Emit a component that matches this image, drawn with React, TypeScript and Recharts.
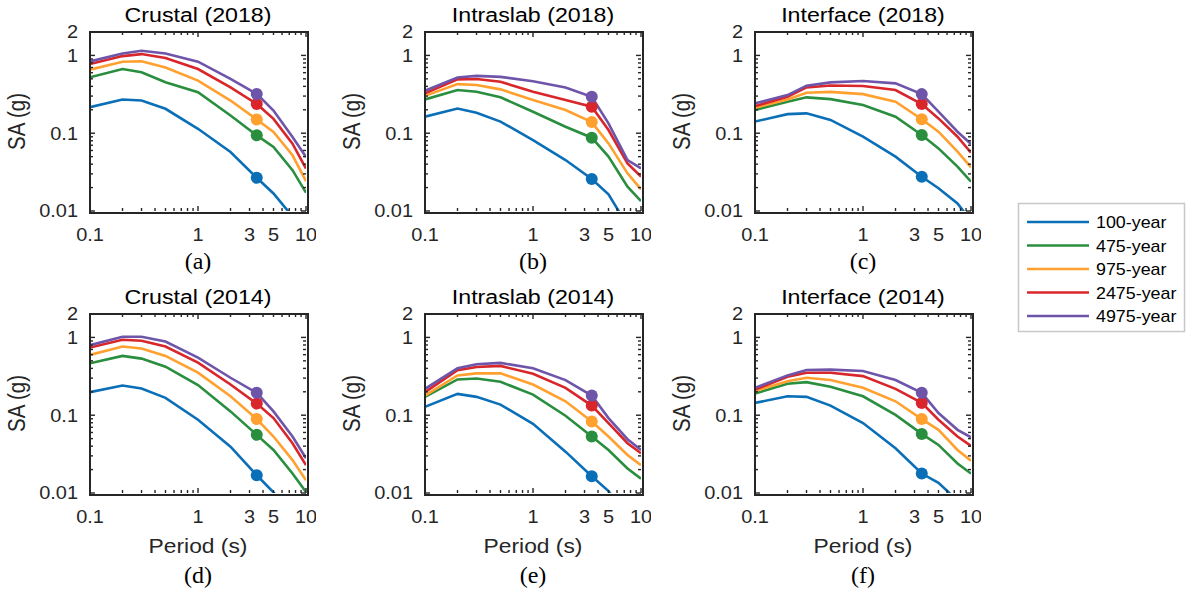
import React from "react";
import { LineChart, Line, XAxis, YAxis } from "recharts";

// spectral periods (s); the marked point sits at 3.5 s
const periods = [0.1, 0.2, 0.3, 0.5, 1, 2, 3.5, 5, 7.5, 10];
const markedPeriod = 3.5;

const seriesNames = ["100-year", "475-year", "975-year", "2475-year", "4975-year"];
const seriesColors = ["#0b6fb8", "#2a8e3f", "#ffa02f", "#d8262b", "#6f55a9"];

// SA (g), one row per return period
const crustal2018 = [
  [0.216, 0.271, 0.263, 0.206, 0.114, 0.0574, 0.0267, 0.0168, 0.0085, 0.0045],
  [0.523, 0.668, 0.607, 0.452, 0.337, 0.169, 0.0939, 0.0666, 0.0335, 0.0172],
  [0.656, 0.83, 0.84, 0.7, 0.474, 0.263, 0.15, 0.1035, 0.052, 0.0242],
  [0.775, 0.98, 1.04, 0.925, 0.668, 0.389, 0.238, 0.153, 0.0734, 0.0351],
  [0.838, 1.06, 1.15, 1.06, 0.83, 0.498, 0.32, 0.196, 0.0894, 0.0496],
];
const intraslab2018 = [
  [0.163, 0.208, 0.183, 0.141, 0.0817, 0.0452, 0.0258, 0.0164, 0.0065, 0.004],
  [0.272, 0.359, 0.341, 0.29, 0.189, 0.121, 0.0876, 0.05, 0.0205, 0.0134],
  [0.303, 0.428, 0.416, 0.366, 0.267, 0.199, 0.139, 0.074, 0.0305, 0.019],
  [0.325, 0.492, 0.497, 0.459, 0.341, 0.267, 0.219, 0.11, 0.041, 0.0276],
  [0.352, 0.521, 0.545, 0.53, 0.466, 0.388, 0.294, 0.134, 0.0452, 0.0353],
];
const interface2018 = [
  [0.141, 0.176, 0.18, 0.148, 0.0902, 0.05, 0.0276, 0.0196, 0.0125, 0.0075],
  [0.199, 0.254, 0.289, 0.274, 0.23, 0.163, 0.0947, 0.0638, 0.0372, 0.0238],
  [0.213, 0.272, 0.331, 0.34, 0.318, 0.254, 0.151, 0.1045, 0.0578, 0.0364],
  [0.223, 0.294, 0.388, 0.41, 0.404, 0.359, 0.237, 0.155, 0.0902, 0.0561],
  [0.242, 0.309, 0.408, 0.45, 0.468, 0.437, 0.318, 0.189, 0.1045, 0.0726],
];
const crustal2014 = [
  [0.198, 0.241, 0.22, 0.167, 0.0875, 0.0394, 0.0169, 0.0102, 0.005, 0.003],
  [0.465, 0.578, 0.534, 0.421, 0.244, 0.112, 0.0559, 0.0357, 0.0178, 0.0103],
  [0.596, 0.764, 0.72, 0.578, 0.352, 0.175, 0.0892, 0.0532, 0.0265, 0.0146],
  [0.742, 0.933, 0.905, 0.764, 0.474, 0.248, 0.141, 0.0919, 0.0436, 0.0228],
  [0.796, 1.02, 1.02, 0.887, 0.551, 0.303, 0.194, 0.112, 0.0532, 0.0279],
];
const intraslab2014 = [
  [0.128, 0.188, 0.172, 0.137, 0.0776, 0.034, 0.0164, 0.0106, 0.005, 0.003],
  [0.172, 0.288, 0.297, 0.269, 0.184, 0.0986, 0.0532, 0.0357, 0.0207, 0.0153],
  [0.179, 0.325, 0.345, 0.345, 0.248, 0.151, 0.0832, 0.0532, 0.0308, 0.0228],
  [0.198, 0.378, 0.417, 0.43, 0.341, 0.225, 0.133, 0.0792, 0.0436, 0.0324],
  [0.218, 0.401, 0.451, 0.47, 0.401, 0.283, 0.179, 0.0919, 0.0491, 0.0357],
];
const interface2014 = [
  [0.144, 0.175, 0.172, 0.133, 0.0792, 0.0376, 0.0178, 0.0135, 0.008, 0.005],
  [0.19, 0.254, 0.266, 0.232, 0.175, 0.101, 0.0575, 0.0415, 0.024, 0.0178],
  [0.204, 0.274, 0.303, 0.283, 0.225, 0.151, 0.0892, 0.0649, 0.0357, 0.026],
  [0.214, 0.312, 0.352, 0.352, 0.318, 0.218, 0.144, 0.0875, 0.0532, 0.0403],
  [0.225, 0.325, 0.381, 0.385, 0.37, 0.283, 0.194, 0.1067, 0.0649, 0.0521],
];

const panelTitles = [
  "Crustal (2018)", "Intraslab (2018)", "Interface (2018)",
  "Crustal (2014)", "Intraslab (2014)", "Interface (2014)",
];
const panelCaptions = ["(a)", "(b)", "(c)", "(d)", "(e)", "(f)"];
const panelData = [crustal2018, intraslab2018, interface2018, crustal2014, intraslab2014, interface2014];

const xTicks = [0.1, 0.2, 0.3, 0.4, 0.5, 0.6, 0.7, 0.8, 0.9, 1, 2, 3, 4, 5, 6, 7, 8, 9, 10];
const xMajor = [0.1, 1, 10];
const xLabels: Record<string, string> = { "0.1": "0.1", "1": "1", "3": "3", "5": "5", "10": "10" };
const yTicks = [
  0.01, 0.02, 0.03, 0.04, 0.05, 0.06, 0.07, 0.08, 0.09,
  0.1, 0.2, 0.3, 0.4, 0.5, 0.6, 0.7, 0.8, 0.9, 1, 2,
];
const yMajor = [0.01, 0.1, 1];
const yLabels: Record<string, string> = { "0.01": "0.01", "0.1": "0.1", "1": "1", "2": "2" };

const colLeft = [90, 425, 755];
const rowTop = [32, 314];
const plotW = 216;
const plotH = 179;
const padTop = 14;
const INK = "#262626";
const sans = "'Liberation Sans', Arial, Helvetica, sans-serif";
const serif = "'Liberation Serif', 'Times New Roman', serif";

// tick marks drawn as thin filled rects, pointing inward on both sides
function xTick(p: any) {
  const { x, y, payload } = p;
  const v = payload.value;
  const len = xMajor.includes(v) ? 5 : 3;
  const label = xLabels[String(v)];
  return (
    <g key={`xt-${v}`}>
      <rect x={x - 0.7} y={y - len} width={1.4} height={len} fill={INK} />
      <rect x={x - 0.7} y={y - plotH} width={1.4} height={len} fill={INK} />
      {label && (
        <text
          transform={`translate(${x} ${y + 29.5}) scale(1.14 1)`}
          textAnchor="middle"
          fontSize={17.5}
          fontFamily={sans}
          fill={INK}
        >
          {label}
        </text>
      )}
    </g>
  );
}

function yTick(p: any) {
  const { x, y, payload } = p;
  const v = payload.value;
  const len = yMajor.includes(v) ? 5 : 3;
  const label = yLabels[String(v)];
  return (
    <g key={`yt-${v}`}>
      <rect x={x} y={y - 0.7} width={len} height={1.4} fill={INK} />
      <rect x={x + plotW - len} y={y - 0.7} width={len} height={1.4} fill={INK} />
      {label && (
        <text
          transform={`translate(${x - 12} ${y + 6.3}) scale(1.14 1)`}
          textAnchor="end"
          fontSize={17.5}
          fontFamily={sans}
          fill={INK}
        >
          {label}
        </text>
      )}
    </g>
  );
}

function markDot(color: string) {
  return (p: any) => (
    <circle
      key={`d-${p.index}`}
      cx={p.cx}
      cy={p.cy}
      r={p.payload.T === markedPeriod ? 6 : 0}
      fill={color}
      stroke="none"
    />
  );
}

function Panel({ rows, left, top }: { rows: number[][]; left: number; top: number }) {
  const data = periods.map((T, i) => {
    const row: Record<string, number> = { T };
    rows.forEach((s, k) => {
      row["s" + k] = s[i];
    });
    return row;
  });

  return (
    <div style={{ position: "absolute", left: left - 60, top: top - padTop }}>
      <LineChart
        width={60 + plotW + 10}
        height={padTop + plotH + 40}
        data={data}
        margin={{ top: padTop, right: 10, bottom: 0, left: 0 }}
      >
        <XAxis
          dataKey="T"
          type="number"
          scale="log"
          domain={[0.1, 10]}
          allowDataOverflow
          ticks={xTicks}
          interval={0}
          tickSize={0}
          tickMargin={0}
          axisLine={false}
          tickLine={false}
          height={40}
          tick={xTick}
        />
        <YAxis
          type="number"
          scale="log"
          domain={[0.01, 2]}
          allowDataOverflow
          ticks={yTicks}
          interval={0}
          tickSize={0}
          tickMargin={0}
          axisLine={false}
          tickLine={false}
          width={60}
          tick={yTick}
        />
        {rows.map((_, k) => (
          <Line
            key={k}
            dataKey={"s" + k}
            stroke={seriesColors[k]}
            strokeWidth={2.6}
            dot={markDot(seriesColors[k])}
            isAnimationActive={false}
          />
        ))}
      </LineChart>
    </div>
  );
}

export default function App() {
  return (
    <div style={{ position: "absolute", left: 0, top: 0, width: 1186, height: 597 }}>
      {panelData.map((rows, i) => (
        <Panel key={i} rows={rows} left={colLeft[i % 3]} top={rowTop[Math.floor(i / 3)]} />
      ))}
      {/* axes boxes as bordered divs */}
      {panelData.map((_, i) => (
        <div
          key={`box-${i}`}
          style={{
            position: "absolute",
            left: colLeft[i % 3] - 1,
            top: rowTop[Math.floor(i / 3)] - 1,
            width: plotW,
            height: plotH,
            border: `2px solid ${INK}`,
            pointerEvents: "none",
          }}
        />
      ))}
      <svg
        width={1186}
        height={597}
        style={{ position: "absolute", left: 0, top: 0, pointerEvents: "none" }}
      >
        {panelData.map((_, i) => {
          const left = colLeft[i % 3];
          const top = rowTop[Math.floor(i / 3)];
          const cx = left + plotW / 2;
          const bottomRow = i >= 3;
          return (
            <g key={i}>
              <text
                transform={`translate(${cx} ${top - 10.5}) scale(1.16 1)`}
                textAnchor="middle"
                fontSize={20}
                fontFamily={sans}
                fill="#000"
              >
                {panelTitles[i]}
              </text>
              <text
                transform={`translate(${left - 65} ${top + plotH / 2}) scale(1.16 1) rotate(-90)`}
                textAnchor="middle"
                fontSize={20.5}
                fontFamily={sans}
                fill={INK}
              >
                SA (g)
              </text>
              {bottomRow && (
                <text
                  transform={`translate(${cx} ${top + 239}) scale(1.14 1)`}
                  textAnchor="middle"
                  fontSize={20}
                  fontFamily={sans}
                  fill={INK}
                >
                  Period (s)
                </text>
              )}
              <text
                x={cx}
                y={bottomRow ? top + 268.7 : top + 236.5}
                textAnchor="middle"
                fontSize={24}
                fontFamily={serif}
                fill="#000"
              >
                {panelCaptions[i]}
              </text>
            </g>
          );
        })}
        <rect x={1018.5} y={203.5} width={166} height={128} fill="#fff" stroke="#c8c8c8" strokeWidth={1.5} />
        {seriesNames.map((name, k) => {
          const y = 222 + k * 23.5;
          return (
            <g key={name}>
              <line x1={1027} y1={y} x2={1089} y2={y} stroke={seriesColors[k]} strokeWidth={2.6} />
              <text
                transform={`translate(1096 ${y + 6}) scale(1.05 1)`}
                fontSize={17}
                fontFamily={sans}
                fill="#000"
              >
                {name}
              </text>
            </g>
          );
        })}
      </svg>
    </div>
  );
}
